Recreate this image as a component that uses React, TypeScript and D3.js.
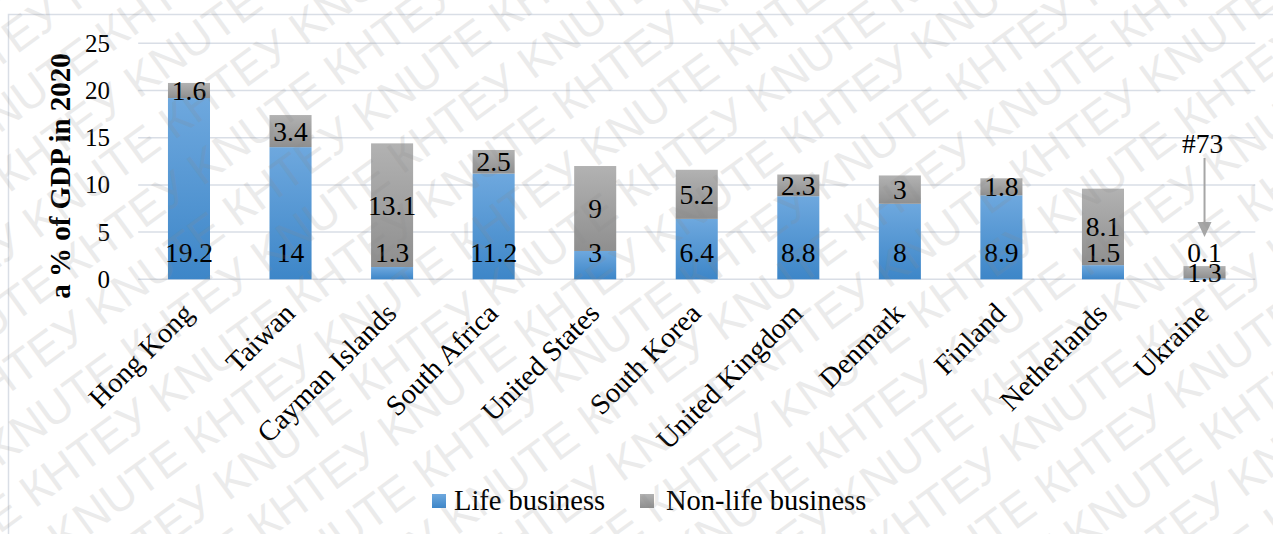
import React from "react";
import * as d3 from "d3";

const categories = [
  "Hong Kong",
  "Taiwan",
  "Cayman Islands",
  "South Africa",
  "United States",
  "South Korea",
  "United Kingdom",
  "Denmark",
  "Finland",
  "Netherlands",
  "Ukraine",
];
const lifeValues = [19.2, 14, 1.3, 11.2, 3, 6.4, 8.8, 8, 8.9, 1.5, 0.1];
const nonLifeValues = [1.6, 3.4, 13.1, 2.5, 9, 5.2, 2.3, 3, 1.8, 8.1, 1.3];
const yTicks = [0, 5, 10, 15, 20, 25];
const seriesNames = ["Life business", "Non-life business"];
const yTitle = "a % of GDP in 2020";
const annotationText = "#73";
const annotatedCategory = "Ukraine";
const watermarkWords = ["KNUTE", "КНТЕУ"];

const W = 1273;
const H = 534;
const serif = "'Liberation Serif', 'Times New Roman', serif";
const sans = "'Liberation Sans', Arial, sans-serif";

export default function App() {
  const x = d3
    .scaleBand<string>()
    .domain(categories)
    .range([138.2, 1255.3])
    .paddingInner(0.586)
    .paddingOuter(0.293);
  const y = d3.scaleLinear().domain([0, 25]).range([279.3, 43.3]);

  const rows = categories.map((c, i) => ({
    cat: c,
    life: lifeValues[i],
    nonLife: nonLifeValues[i],
  }));
  const stack = d3.stack<any>().keys(["life", "nonLife"]);
  const series = stack(rows);
  const fills = ["url(#gBlue)", "url(#gGray)"];

  // watermark rows
  const angle = -36;
  const wmFont = 46;
  const wmSpacing = 54;
  const rowText = Array.from({ length: 12 }, (_, i) => watermarkWords[i % 2]).join(" ");
  const wmRows = d3.range(-2, 25).map((k) => ({
    v: k * wmSpacing,
    u: -440 + (k % 2 === 0 ? 0 : -165),
  }));

  const ax = (x(annotatedCategory) as number) + x.bandwidth() / 2;

  const legendItems = [
    { name: seriesNames[0], fill: "url(#gBlue)", sx: 432, tx: 454 },
    { name: seriesNames[1], fill: "url(#gGray)", sx: 640, tx: 666 },
  ];

  return (
    <svg
      width={W}
      height={H}
      style={{ position: "absolute", left: 0, top: 0, background: "#fff" }}
      fontFamily={serif}
    >
      <defs>
        <linearGradient id="gBlue" x1="0" y1="0" x2="0" y2="1">
          <stop offset="0" stopColor="#6ea8de" />
          <stop offset="1" stopColor="#3d86c8" />
        </linearGradient>
        <linearGradient id="gGray" x1="0" y1="0" x2="0" y2="1">
          <stop offset="0" stopColor="#b2b2b2" />
          <stop offset="1" stopColor="#8f8f8f" />
        </linearGradient>
      </defs>
      <rect x={0} y={0} width={W} height={H} fill="#fff" />
      {/* chart area border */}
      <rect x={8.5} y={14.5} width={W + 20} height={H + 20} fill="none" stroke="#d9dee6" strokeWidth={1.5} />

      {/* gridlines */}
      {yTicks.map((t) => (
        <line
          key={"g" + t}
          x1={138.2}
          x2={1255.3}
          y1={y(t)}
          y2={y(t)}
          stroke="#d9dee6"
          strokeWidth={1.5}
        />
      ))}

      {/* y tick labels */}
      {yTicks.map((t) => (
        <text key={"t" + t} x={110} y={y(t) + 8.5} textAnchor="end" fontSize={25} fontFamily={serif} fill="#000">
          {t}
        </text>
      ))}

      {/* y title */}
      <text
        transform={`translate(70, ${176}) rotate(-90)`}
        textAnchor="middle"
        fontSize={29}
        fontWeight="bold"
        fontFamily={serif}
        fill="#000"
      >
        {yTitle}
      </text>

      {/* bars */}
      {series.map((s, si) =>
        s.map((d) => {
          const cat = d.data.cat as string;
          return (
            <rect
              key={si + cat}
              x={x(cat)}
              width={x.bandwidth()}
              y={y(d[1])}
              height={y(d[0]) - y(d[1])}
              fill={fills[si]}
            />
          );
        })
      )}

      {/* data labels */}
      {series[0].map((d) => {
        const cat = d.data.cat as string;
        return (
          <text
            key={"ll" + cat}
            x={(x(cat) as number) + x.bandwidth() / 2}
            y={y(0) - 17}
            textAnchor="middle"
            fontSize={27.5}
            fontFamily={serif}
            fill="#000"
          >
            {d.data.life}
          </text>
        );
      })}
      {series[1].map((d) => {
        const cat = d.data.cat as string;
        return (
          <text
            key={"nl" + cat}
            x={(x(cat) as number) + x.bandwidth() / 2}
            y={(y(d[0]) + y(d[1])) / 2 + 9.5}
            textAnchor="middle"
            fontSize={27.5}
            fontFamily={serif}
            fill="#000"
          >
            {d.data.nonLife}
          </text>
        );
      })}

      {/* annotation arrow */}
      <text x={ax - 2} y={153} textAnchor="middle" fontSize={27.5} fontFamily={serif} fill="#000">
        {annotationText}
      </text>
      <line x1={ax} x2={ax} y1={158} y2={223} stroke="#a6a6a6" strokeWidth={2} />
      <path d={`M${ax - 7},${222} L${ax + 7},${222} L${ax},${237} Z`} fill="#a6a6a6" />

      {/* category labels */}
      {categories.map((c) => {
        const cx = (x(c) as number) + x.bandwidth() / 2;
        return (
          <text
            key={"c" + c}
            transform={`translate(${cx + 6}, ${315}) rotate(-45)`}
            textAnchor="end"
            fontSize={28.5}
            fontFamily={serif}
            fill="#000"
          >
            {c}
          </text>
        );
      })}

      {/* legend */}
      {legendItems.map((li) => (
        <g key={li.name}>
          <rect x={li.sx} y={494} width={14} height={14} fill={li.fill} />
          <text x={li.tx} y={510} fontSize={28.5} fontFamily={serif} fill="#000">
            {li.name}
          </text>
        </g>
      ))}

      {/* watermark */}
      <g
        transform={`rotate(${angle})`}
        fontFamily={sans}
        fontSize={wmFont}
        fill="#8a8a8a"
        opacity={0.16}
        style={{ pointerEvents: "none" }}
      >
        {wmRows.map((r, i) => (
          <text key={"wm" + i} x={r.u} y={r.v}>
            {rowText}
          </text>
        ))}
      </g>
    </svg>
  );
}
